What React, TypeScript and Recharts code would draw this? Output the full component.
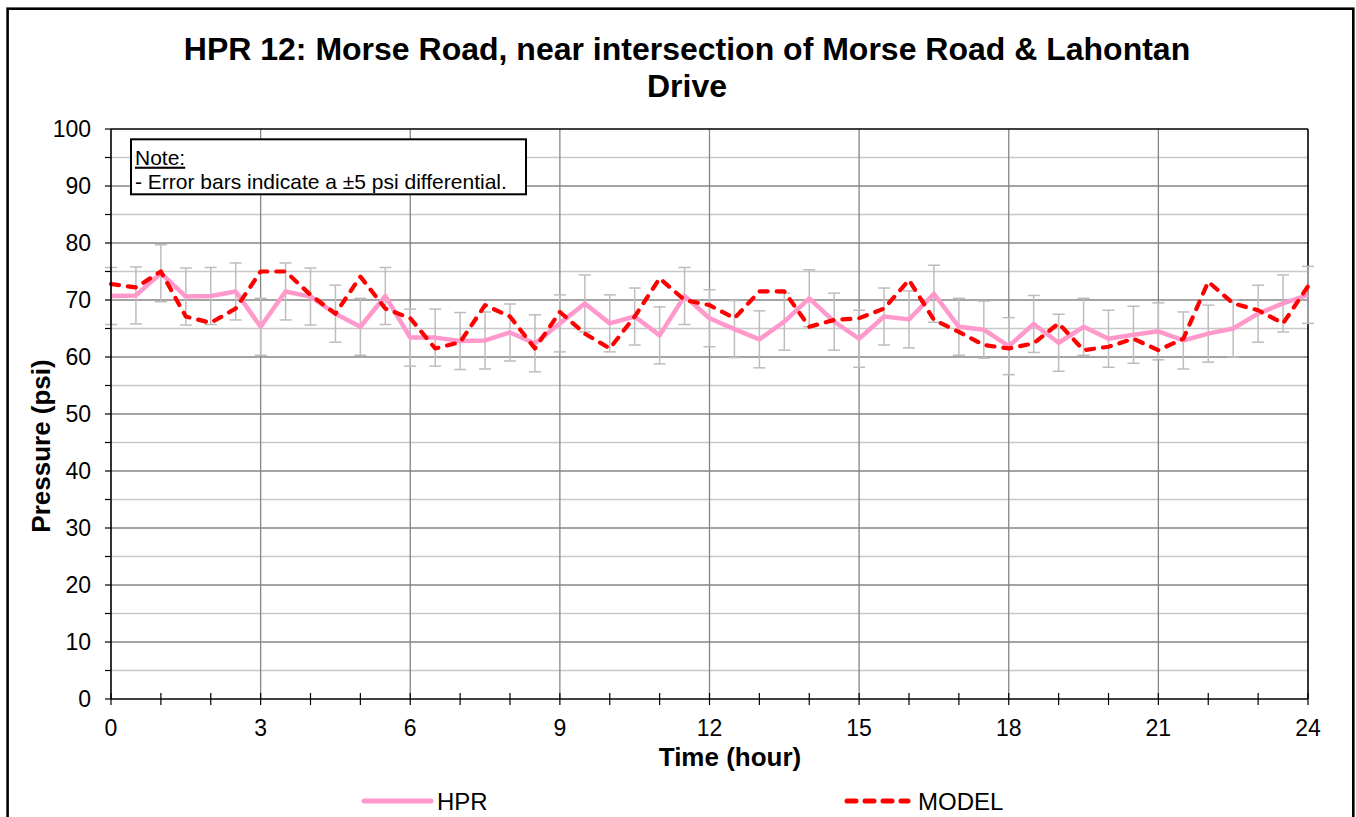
import React from 'react';
import {
  LineChart,
  Line,
  XAxis,
  YAxis,
  CartesianGrid,
  ReferenceLine,
  ErrorBar,
  Legend,
} from 'recharts';

// ---- data ----
const HOURS = [
  0, 0.5, 1, 1.5, 2, 2.5, 3, 3.5, 4, 4.5, 5, 5.5, 6, 6.5, 7, 7.5, 8, 8.5, 9, 9.5,
  10, 10.5, 11, 11.5, 12, 12.5, 13, 13.5, 14, 14.5, 15, 15.5, 16, 16.5, 17, 17.5,
  18, 18.5, 19, 19.5, 20, 20.5, 21, 21.5, 22, 22.5, 23, 23.5, 24,
];

const HPR = [
  70.7, 70.8, 74.7, 70.6, 70.7, 71.5, 65.3, 71.5, 70.6, 67.6, 65.3, 70.7, 63.4,
  63.4, 62.8, 62.9, 64.3, 62.4, 65.9, 69.4, 65.9, 67.1, 63.8, 70.7, 66.8, 64.9,
  63.1, 66.2, 70.3, 66.2, 63.2, 67.1, 66.6, 71.1, 65.3, 64.8, 61.9, 65.8, 62.5,
  65.3, 63.2, 63.9, 64.5, 62.9, 64.1, 65.0, 67.6, 69.4, 70.9,
];

const MODEL = [
  72.8, 72.2, 75.0, 67.1, 66.0, 68.5, 75.0, 75.0, 70.9, 67.6, 74.1, 68.5, 66.8,
  61.5, 62.6, 69.1, 67.1, 61.5, 67.9, 64.1, 61.5, 67.1, 73.8, 70.0, 69.1, 66.8,
  71.5, 71.5, 65.3, 66.5, 66.8, 68.5, 73.5, 66.5, 64.4, 62.1, 61.5, 62.4, 65.9,
  61.2, 61.8, 63.2, 61.2, 63.2, 73.2, 69.4, 68.2, 65.9, 72.4,
];

// error bars indicate a +/-5 psi differential (from the chart note)
const ERROR_PSI = 5;

const X_TICKS = [0, 1, 2, 3, 4, 5, 6, 7, 8, 9, 10, 11, 12, 13, 14, 15, 16, 17, 18, 19, 20, 21, 22, 23, 24];
const X_LABELED = [0, 3, 6, 9, 12, 15, 18, 21, 24];
const X_GRID = [3, 6, 9, 12, 15, 18, 21];
const Y_TICKS = [0, 5, 10, 15, 20, 25, 30, 35, 40, 45, 50, 55, 60, 65, 70, 75, 80, 85, 90, 95, 100];
const Y_LABELED = [0, 10, 20, 30, 40, 50, 60, 70, 80, 90, 100];
const Y_GRID_MAJOR = [10, 20, 30, 40, 50, 60, 70, 80, 90];
const Y_GRID_MINOR = [5, 15, 25, 35, 45, 55, 65, 75, 85, 95];

const TITLE_LINE_1 = 'HPR 12: Morse Road, near intersection of Morse Road & Lahontan';
const TITLE_LINE_2 = 'Drive';
const X_TITLE = 'Time (hour)';
const Y_TITLE = 'Pressure (psi)';
const NOTE_HEAD = 'Note:';
const NOTE_TEXT = '- Error bars indicate a \u00B15 psi differential.';
const HPR_NAME = 'HPR';
const MODEL_NAME = 'MODEL';

const data = HOURS.map((t, i) => ({ t, hpr: HPR[i], model: MODEL[i], err: ERROR_PSI }));

const FONT = '"Liberation Sans", Arial, Helvetica, sans-serif';
const PINK = '#FF99CC';
const RED = '#FF0000';
const MAJOR_GRID = '#868686';
const MINOR_GRID = '#C8C8C8';

const W = 1356;
const H = 817;

const XTick = (props: any) => {
  const { x, y, payload } = props;
  const v = payload.value;
  return (
    <g>
      <line x1={x} x2={x} y1={y - 6} y2={y + 6} stroke="#000" strokeWidth={1.2} />
      {X_LABELED.includes(v) && (
        <text x={x} y={y + 37} textAnchor="middle" fontSize={23} fill="#000" fontFamily={FONT}>
          {v}
        </text>
      )}
    </g>
  );
};

const YTick = (props: any) => {
  const { x, y, payload } = props;
  const v = payload.value;
  if (!Y_LABELED.includes(v)) return <g />;
  return (
    <text x={x - 14} y={y + 8} textAnchor="end" fontSize={23} fill="#000" fontFamily={FONT}>
      {v}
    </text>
  );
};

const XTitle = (props: any) => {
  const vb = props.viewBox || { x: 111, y: 699, width: 1197, height: 60 };
  return (
    <text
      x={vb.x + vb.width / 2 + 20.5}
      y={vb.y + 67}
      textAnchor="middle"
      fontSize={26}
      fontWeight="bold"
      fill="#000"
      fontFamily={FONT}
    >
      {X_TITLE}
    </text>
  );
};

const YTitle = (props: any) => {
  const vb = props.viewBox || { x: 0, y: 129, width: 111, height: 570 };
  const cx = vb.x + 41;
  const cy = vb.y + vb.height / 2 + 32;
  return (
    <text
      x={cx}
      y={cy}
      transform={`rotate(-90, ${cx}, ${cy})`}
      textAnchor="middle"
      dominantBaseline="central"
      fontSize={26}
      fontWeight="bold"
      fill="#000"
      fontFamily={FONT}
    >
      {Y_TITLE}
    </text>
  );
};

const renderLegend = () => (
  <div style={{ position: 'relative', width: W, height: 30, margin: 0, padding: 0 }}>
    <svg width={W} height={30} style={{ position: 'absolute', left: 0, top: 0, overflow: 'visible' }}>
      <line x1={364} x2={431} y1={15} y2={15} stroke={PINK} strokeWidth={5} strokeLinecap="round" />
      <text x={437} y={23.5} fontSize={24} fill="#000" fontFamily={FONT}>
        {HPR_NAME}
      </text>
      <line
        x1={847}
        x2={908}
        y1={15}
        y2={15}
        stroke={RED}
        strokeWidth={5}
        strokeDasharray="9 9"
        strokeLinecap="round"
      />
      <text x={918} y={23.5} fontSize={24} fill="#000" fontFamily={FONT}>
        {MODEL_NAME}
      </text>
    </svg>
  </div>
);

export default function App() {
  return (
    <div
      style={{
        position: 'fixed',
        left: 0,
        top: 0,
        width: W,
        height: H,
        overflow: 'hidden',
        background: '#fff',
        fontFamily: FONT,
      }}
    >
      <div style={{ position: 'absolute', left: 0, top: 0 }}>
        <LineChart
          width={W}
          height={H}
          data={data}
          margin={{ top: 129, right: 48, bottom: 28, left: 0 }}
        >
          <CartesianGrid
            vertical={false}
            horizontalValues={Y_GRID_MINOR}
            stroke={MINOR_GRID}
            strokeWidth={1.3}
          />
          <CartesianGrid
            vertical={false}
            horizontalValues={Y_GRID_MAJOR}
            stroke={MAJOR_GRID}
            strokeWidth={1.3}
          />
          <CartesianGrid
            horizontal={false}
            verticalValues={X_GRID}
            stroke={MAJOR_GRID}
            strokeWidth={1.3}
          />
          <XAxis
            type="number"
            dataKey="t"
            domain={[0, 24]}
            ticks={X_TICKS}
            interval={0}
            height={60}
            tickSize={0}
            tickMargin={0}
            tickLine={false}
            tick={<XTick />}
            axisLine={{ stroke: '#000', strokeWidth: 1.6 }}
            label={{ content: XTitle }}
          />
          <YAxis
            type="number"
            domain={[0, 100]}
            ticks={Y_TICKS}
            interval={0}
            width={111}
            tickSize={6}
            tickMargin={0}
            tickLine={{ stroke: '#000', strokeWidth: 1.2 }}
            tick={<YTick />}
            axisLine={{ stroke: '#000', strokeWidth: 1.6 }}
            label={{ content: YTitle }}
          />
          <ReferenceLine y={100} stroke="#000" strokeWidth={1.6} />
          <ReferenceLine x={24} stroke="#000" strokeWidth={1.6} />
          <Line
            dataKey="hpr"
            stroke="none"
            dot={false}
            activeDot={false}
            legendType="none"
            isAnimationActive={false}
          >
            <ErrorBar dataKey="err" direction="y" width={6} stroke="#BDBDBD" strokeWidth={1.5} isAnimationActive={false} />
          </Line>
          <Line
            dataKey="hpr"
            name={HPR_NAME}
            stroke={PINK}
            strokeWidth={4.5}
            strokeLinejoin="round"
            dot={false}
            activeDot={false}
            isAnimationActive={false}
          />
          <Line
            dataKey="model"
            name={MODEL_NAME}
            stroke={RED}
            strokeWidth={4.2}
            strokeDasharray="8 9"
            strokeLinecap="round"
            strokeLinejoin="round"
            dot={false}
            activeDot={false}
            isAnimationActive={false}
          />
          <Legend
            verticalAlign="bottom"
            content={renderLegend}
            wrapperStyle={{ left: 0, bottom: 1, width: W, height: 30 }}
          />
        </LineChart>
      </div>
      <svg
        width={W}
        height={H}
        style={{ position: 'absolute', left: 0, top: 0, pointerEvents: 'none' }}
      >
        <rect x={7.6} y={8.7} width={1345.7} height={830} fill="none" stroke="#000" strokeWidth={2.6} />
        <text x={687} y={59.5} textAnchor="middle" fontSize={32} fontWeight="bold" fill="#000" fontFamily={FONT}>
          {TITLE_LINE_1}
        </text>
        <text x={687} y={96.7} textAnchor="middle" fontSize={32} fontWeight="bold" fill="#000" fontFamily={FONT}>
          {TITLE_LINE_2}
        </text>
        <rect x={131} y={139.3} width={395} height={55} fill="#fff" stroke="#000" strokeWidth={2} />
        <text x={135} y={164.7} fontSize={21} fill="#000" fontFamily={FONT} textDecoration="underline">
          {NOTE_HEAD}
        </text>
        <text x={135} y={188.7} fontSize={21} fill="#000" fontFamily={FONT}>
          {NOTE_TEXT}
        </text>
      </svg>
    </div>
  );
}
